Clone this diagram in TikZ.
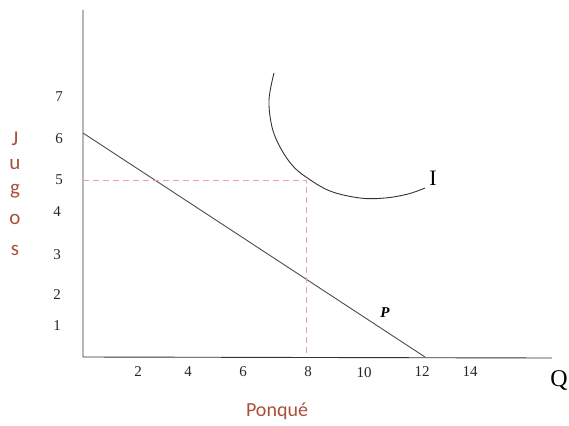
\documentclass[tikz,border=0pt]{standalone}
\usepackage{fontspec}
\setmainfont{Liberation Serif}
\newfontfamily\labfont{Carlito}
\definecolor{labred}{HTML}{A8503A}
\definecolor{dashred}{HTML}{E9A3A3}
\begin{document}
\begin{tikzpicture}[x=1pt,y=-1pt,
  num/.style={font=\fontsize{15}{16}\selectfont, text=black!85, inner sep=0pt},
  axis/.style={draw=black!80, line width=0.9pt},
  guide/.style={draw=dashred, dash pattern=on 6pt off 4pt, line width=0.9pt},
  ylab/.style={font=\labfont\fontsize{21}{22}\selectfont, text=labred, inner sep=0pt}]
\useasboundingbox (0,0) rectangle (569,425);
% axes
\coordinate (top) at (83,10);
\coordinate (O) at (83,357);
\coordinate (xend) at (552,358);
\draw[axis] (top) -- (O) -- (xend);
% budget line
\coordinate (A) at (83,133);
\coordinate (B) at (425,357);
\draw[draw=black!70, line width=0.9pt] (A) -- (B);
% dashed guides
\coordinate (E) at (306,180);
\coordinate (Ey) at (83,180);
\coordinate (Ex) at (306,357);
\draw[guide] (Ey) -- (E) -- (Ex);
% indifference curve
\draw[draw=black!80, line width=0.9pt] plot[smooth, tension=0.6] coordinates
  {(274,73) (269,100) (272,127) (280,147) (292,165) (306,177) (330,191) (360,198) (385,198) (408,194) (425,188)};
\node[font=\fontsize{22}{24}\selectfont, inner sep=0pt] (I) at (433,178) {I};
\node[font=\bfseries\itshape\fontsize{15}{16}\selectfont, inner sep=0pt] (P) at (385,313) {P};
% y numbers
\node[num] (y7) at (59,97) {7};
\node[num] (y6) at (59,139) {6};
\node[num] (y5) at (59,180) {5};
\node[num] (y4) at (57,212) {4};
\node[num] (y3) at (57,255) {3};
\node[num] (y2) at (57,295) {2};
\node[num] (y1) at (57,326) {1};
% x numbers
\node[num] (x2) at (138,372) {2};
\node[num] (x4) at (188,372) {4};
\node[num] (x6) at (243,372) {6};
\node[num] (x8) at (308,372) {8};
\node[num] (x10) at (364,373) {10};
\node[num] (x12) at (422,372) {12};
\node[num] (x14) at (470,372) {14};
\node[font=\fontsize{24}{26}\selectfont, inner sep=0pt] (Q) at (559,380) {Q};
% labels
\node[ylab] (j1) at (15,139) {J};
\node[ylab] (j2) at (15,165) {u};
\node[ylab] (j3) at (15,191) {g};
\node[ylab] (j4) at (15,219) {o};
\node[ylab] (j5) at (15,250) {s};
\node[ylab, font=\labfont\fontsize{20}{22}\selectfont] (pq) at (277,411) {Ponqué};
\end{tikzpicture}
\end{document}
